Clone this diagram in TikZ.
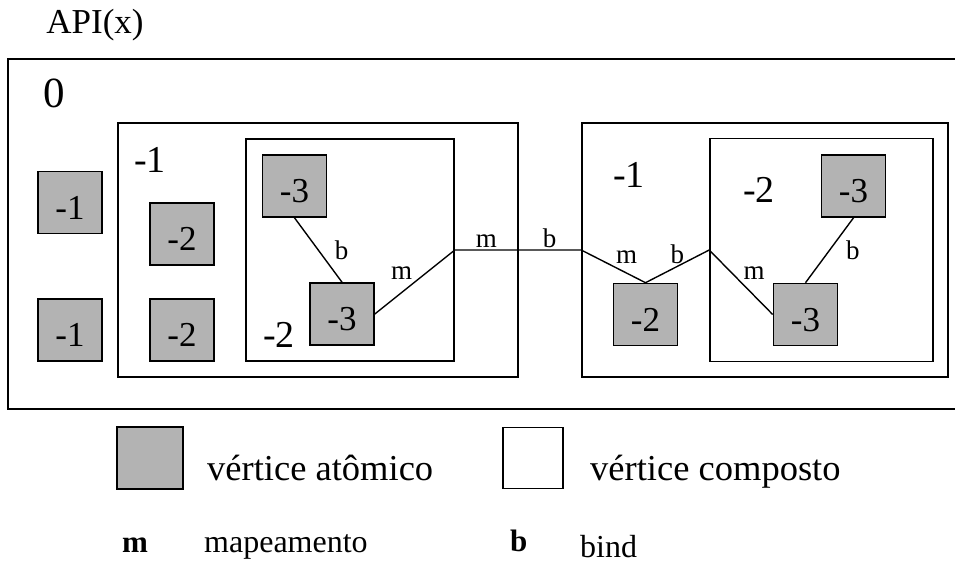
\documentclass[tikz,border=0pt]{standalone}
\usepackage{fontspec}
\setmainfont{Liberation Serif}
\definecolor{cinza}{RGB}{179,179,179}
\tikzset{
  atomo/.style={draw, line width=1.6pt, fill=cinza, minimum width=64pt, minimum height=62pt, inner sep=0pt, font=\fontsize{35}{40}\selectfont, text height=33pt, text depth=0pt},
  composto/.style={draw, line width=1.6pt, inner sep=0pt},
  nivel/.style={font=\fontsize{38}{44}\selectfont, inner sep=0pt, anchor=base},
  aresta/.style={font=\fontsize{27}{30}\selectfont, inner sep=2pt},
  legenda/.style={inner sep=0pt, anchor=base west},
}
\begin{document}
\begin{tikzpicture}[x=1pt,y=-1pt]
\useasboundingbox (0,0) rectangle (955,563);
\node[font=\fontsize{35}{40}\selectfont, anchor=base, inner sep=0pt] (api) at (95,33) {API(x)};
% nivel 0
\draw[line width=1.6pt] (955,59) -| (8,409) -- (955,409);
\node[nivel, font=\fontsize{43}{50}\selectfont] (n0) at (54,107) {0};
\node[atomo] (a1) at (70,202.5) {-1};
\node[atomo] (a2) at (70,330) {-1};
% lado esquerdo
\node[composto, minimum width=400pt, minimum height=254pt] (L1) at (318,250) {};
\node[nivel] (n1a) at (150,172) {-1};
\node[atomo] (b1) at (182,234) {-2};
\node[atomo] (b2) at (182,330) {-2};
\node[composto, minimum width=208pt, minimum height=222pt] (L2) at (350,250) {};
\node[nivel] (n2a) at (279,347) {-2};
\node[atomo] (c1) at (294.5,186) {-3};
\node[atomo] (c2) at (342,314) {-3};
% lado direito
\node[composto, minimum width=366pt, minimum height=254pt] (R1) at (765,250) {};
\node[nivel] (n1b) at (629,187) {-1};
\node[atomo] (d1) at (645.5,314.5) {-2};
\node[composto, minimum width=223pt, minimum height=223pt] (R2) at (821.5,250) {};
\node[nivel] (n2b) at (759,202) {-2};
\node[atomo] (e1) at (805.5,314.5) {-3};
\node[atomo] (e2) at (853.5,186) {-3};
% arestas
\draw[line width=1.4pt] (c1.south) -- node[aresta, right=14pt] {b} (c2.north);
\draw[line width=1.4pt] (c2.east) -- node[aresta, above left] {m} (L2.east)
  -- node[aresta, pos=0.25, above] {m} node[aresta, pos=0.75, above] {b} (R1.west)
  -- node[aresta, above right] {m} (d1.north)
  -- node[aresta, above] {b} (R2.west)
  -- node[aresta, above right] {m} (e1.west);
\draw[line width=1.4pt] (e2.south) -- node[aresta, right=14pt] {b} (e1.north);
% legenda
\node[atomo, minimum width=66pt] (la) at (150,458) {};
\node[legenda, font=\fontsize{36.5}{42}\selectfont] (ta) at (207,480) {vértice atômico};
\node[composto, minimum width=60pt, minimum height=61pt] (lc) at (533,458) {};
\node[legenda, font=\fontsize{36.5}{42}\selectfont] (tc) at (590,480) {vértice composto};
\node[legenda, font=\fontsize{31}{36}\selectfont\bfseries] (lm) at (122,552) {m};
\node[legenda, font=\fontsize{32}{36}\selectfont] (tm) at (204,552) {mapeamento};
\node[legenda, font=\fontsize{31}{36}\selectfont\bfseries] (lb) at (510,551) {b};
\node[legenda, font=\fontsize{32}{36}\selectfont] (tb) at (580,557) {bind};
\end{tikzpicture}
\end{document}
